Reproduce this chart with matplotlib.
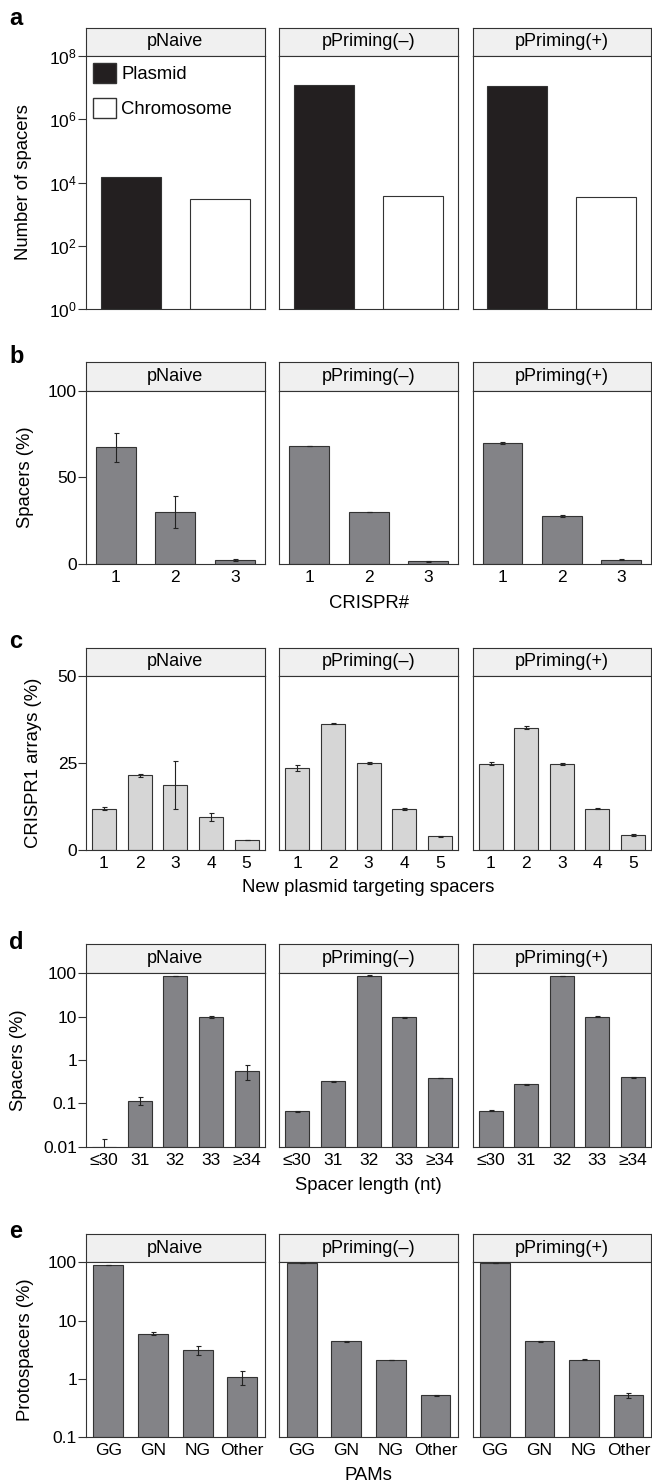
import numpy as np
import matplotlib.pyplot as plt
from matplotlib.patches import Patch

plt.rcParams['font.family'] = ['Liberation Sans', 'DejaVu Sans']

W, H = 652, 1484

strains = ['pNaive', 'pPriming(–)', 'pPriming(+)']

# panel a: number of spacers (log)
a_cats = ['Plasmid', 'Chromosome']
a_vals = [[1.5e4, 2.95e3], [1.17e7, 3.8e3], [1.12e7, 3.55e3]]

# panel b: spacers per CRISPR array (%)
b_cats = ['1', '2', '3']
b_vals = [[67.3, 30.2, 2.1], [68.1, 30.2, 1.5], [69.8, 27.7, 2.5]]
b_err = [[8.4, 9.2, 0.6], [0.0, 0.0, 0.2], [0.4, 0.6, 0.2]]

# panel c: CRISPR1 arrays (%)
c_cats = ['1', '2', '3', '4', '5']
c_vals = [[11.9, 21.5, 18.7, 9.6, 2.8],
          [23.6, 36.3, 25.1, 11.7, 3.9],
          [24.8, 35.2, 24.7, 11.9, 4.3]]
c_err = [[0.5, 0.4, 6.9, 1.15, 0.0],
         [0.8, 0.2, 0.3, 0.3, 0.2],
         [0.5, 0.5, 0.2, 0.2, 0.2]]

# panel d: spacer length (%, log)
d_cats = ['≤30', '31', '32', '33', '≥34']
d_vals = [[0.008, 0.115, 88.4, 9.8, 0.55],
          [0.0654, 0.322, 88.4, 9.65, 0.384],
          [0.0677, 0.279, 88.4, 10.0, 0.398]]
d_err = [[0.007, 0.023, 0.5, 0.4, 0.21],
         [0.002, 0.01, 1.5, 0.2, 0.008],
         [0.002, 0.008, 0.5, 0.3, 0.01]]

# panel e: PAMs (%, log)
e_cats = ['GG', 'GN', 'NG', 'Other']
e_vals = [[90, 5.9, 3.1, 1.07], [96, 4.43, 2.09, 0.517], [96, 4.43, 2.12, 0.517]]
e_err = [[1.0, 0.35, 0.5, 0.29], [0.5, 0.08, 0.03, 0.01], [0.5, 0.08, 0.03, 0.055]]

cols = [(86.1, 264.5), (279.4, 457.8), (472.8, 650.7)]
edge = '#333333'
fs_tick = 12.5
fs_strip = 13
fs_lab = 13.3
xmid = (cols[1][0] + cols[1][1]) / 2

fig = plt.figure(figsize=(W / 100, H / 100), dpi=100)


def px_axes(x0, x1, top, bottom):
    return fig.add_axes([x0 / W, 1 - bottom / H, (x1 - x0) / W, (bottom - top) / H])


def draw_row(strip_top, plot_top, plot_bottom, cats, vals, err, color,
             ylim, yticks, yticklabels, log=False, show_x=True):
    axes = []
    for i, (x0, x1) in enumerate(cols):
        # strip on top
        sax = px_axes(x0, x1, strip_top, plot_top)
        sax.set_facecolor('#f0f0f0')
        sax.set_xticks([])
        sax.set_yticks([])
        for s in sax.spines.values():
            s.set_color(edge)
            s.set_linewidth(0.8)
        sax.text(0.5, 0.5, strains[i], ha='center', va='center', fontsize=fs_strip,
                 transform=sax.transAxes)

        ax = px_axes(x0, x1, plot_top, plot_bottom)
        n = len(cats)
        x = np.arange(1, n + 1)
        if log:
            ax.set_yscale('log')
        base = ylim[0] if log else 0
        v = np.array(vals[i], dtype=float)
        ax.bar(x, v - base, bottom=base, width=0.67, color=color,
               edgecolor=edge, linewidth=0.8, zorder=2)
        if err is not None:
            ax.errorbar(x, v, yerr=err[i], fmt='none', ecolor='#222222',
                        elinewidth=0.8, capsize=1.8, capthick=0.8, zorder=3)
        ax.set_xlim(0.5, n + 0.5)
        ax.set_ylim(*ylim)
        ax.minorticks_off()
        ax.set_yticks(yticks)
        if i == 0:
            ax.set_yticklabels(yticklabels, fontsize=fs_tick)
            ax.tick_params(axis='y', length=5.5, width=0.8, color=edge, pad=1)
        else:
            ax.set_yticklabels([])
            ax.tick_params(axis='y', length=0)
        ax.set_xticks(x)
        if show_x:
            ax.set_xticklabels(cats, fontsize=fs_tick)
        else:
            ax.set_xticklabels([])
        ax.tick_params(axis='x', length=0, pad=4.5)
        for s in ax.spines.values():
            s.set_color(edge)
            s.set_linewidth(0.8)
        axes.append(ax)
    return axes


# a
ax_a = draw_row(28, 56, 309, a_cats, a_vals, None, ['#231f20', 'white'],
                (1, 1e8), [1, 1e2, 1e4, 1e6, 1e8],
                [r'$\mathregular{10^{%d}}$' % k for k in [0, 2, 4, 6, 8]],
                log=True, show_x=False)
ax_a[0].legend(handles=[Patch(facecolor='#231f20', edgecolor=edge, label=a_cats[0]),
                        Patch(facecolor='white', edgecolor=edge, label=a_cats[1])],
               loc='upper left', frameon=False, fontsize=fs_lab, handlelength=1.2,
               handleheight=1.25, labelspacing=0.8, handletextpad=0.3,
               borderaxespad=0.4, borderpad=0.0)
fig.text(9 / W, 1 - 25 / H, 'a', fontsize=17, fontweight='bold', ha='left', va='baseline')
fig.text(23.5 / W, 1 - 182 / H, 'Number of spacers', rotation=90, ha='center', va='center',
         fontsize=fs_lab)

# b
draw_row(361.7, 390.7, 564, b_cats, b_vals, b_err, '#838387',
         (0, 100), [0, 50, 100], ['0', '50', '100'])
fig.text(9 / W, 1 - 363.3 / H, 'b', fontsize=17, fontweight='bold', ha='left', va='baseline')
fig.text(25 / W, 1 - 477 / H, 'Spacers (%)', rotation=90, ha='center', va='center',
         fontsize=fs_lab)
fig.text(xmid / W, 1 - 603 / H, 'CRISPR#', ha='center', va='center', fontsize=fs_lab)

# c
draw_row(647.7, 676, 850, c_cats, c_vals, c_err, '#d6d6d6',
         (0, 50), [0, 25, 50], ['0', '25', '50'])
fig.text(9 / W, 1 - 648 / H, 'c', fontsize=17, fontweight='bold', ha='left', va='baseline')
fig.text(34 / W, 1 - 763 / H, 'CRISPR1 arrays (%)', rotation=90, ha='center', va='center',
         fontsize=fs_lab)
fig.text(xmid / W, 1 - 888 / H, 'New plasmid targeting spacers', ha='center', va='center',
         fontsize=fs_lab)

# d
draw_row(944.3, 973.3, 1146.7, d_cats, d_vals, d_err, '#838387',
         (0.01, 100), [0.01, 0.1, 1, 10, 100], ['0.01', '0.1', '1', '10', '100'], log=True)
fig.text(9 / W, 1 - 949 / H, 'd', fontsize=17, fontweight='bold', ha='left', va='baseline')
fig.text(18.5 / W, 1 - 1060 / H, 'Spacers (%)', rotation=90, ha='center', va='center',
         fontsize=fs_lab)
fig.text(xmid / W, 1 - 1185 / H, 'Spacer length (nt)', ha='center', va='center',
         fontsize=fs_lab)

# e
draw_row(1234.3, 1262.3, 1437, e_cats, e_vals, e_err, '#838387',
         (0.1, 100), [0.1, 1, 10, 100], ['0.1', '1', '10', '100'], log=True)
fig.text(9 / W, 1 - 1238 / H, 'e', fontsize=17, fontweight='bold', ha='left', va='baseline')
fig.text(25 / W, 1 - 1350 / H, 'Protospacers (%)', rotation=90, ha='center', va='center',
         fontsize=fs_lab)
fig.text(xmid / W, 1 - 1476 / H, 'PAMs', ha='center', va='center', fontsize=fs_lab)

fig.savefig('out.png', dpi=100)
